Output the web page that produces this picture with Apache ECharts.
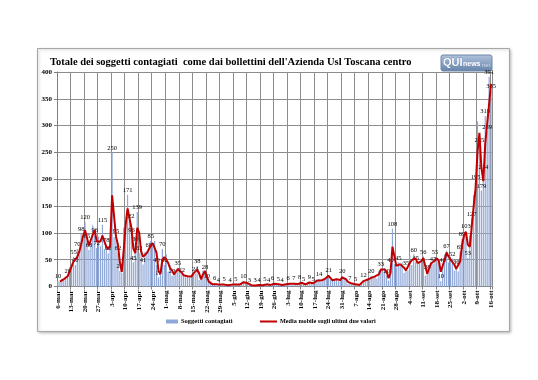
<!DOCTYPE html>
<html><head><meta charset="utf-8">
<script src="https://cdn.jsdelivr.net/npm/echarts@6/dist/echarts.min.js"></script>
<style>html,body{margin:0;padding:0;background:#fff}#c{width:538px;height:380px}</style>
</head><body><div id="c"></div>
<script>
// ---- data ----
const monthNames = ['mar', 'apr', 'mag', 'giu', 'lug', 'ago', 'set', 'ott'];
const monthFirstDay = [6, 1, 1, 1, 1, 1, 1, 1];
const marValues = [10, 8, 15, 12, 18, 20, 36, 38, 55, 40, 70, 60, 98, 90, 120, 85, 68, 80, 114, 96, 72, 93, 75, 115, 70, 78];
const aprValues = [62, 90, 250, 92, 95, 62, 29, 25, 110, 120, 171, 122, 96, 45, 80, 139, 62, 70, 41, 65, 60, 68, 85, 77, 85, 40, 17, 30, 70, 40];
const magValues = [60, 28, 40, 20, 25, 30, 35, 30, 22, 20, 17, 21, 17, 20, 28, 24, 38, 12, 15, 30, 28, 10, 8, 5, 3, 6, 2, 4, 3, 2, 5];
const giuValues = [3, 2, 4, 3, 2, 5, 3, 4, 6, 10, 8, 5, 3, 2, 1, 3, 2, 4, 3, 2, 5, 3, 4, 2, 6, 4, 3, 5, 2, 4];
const lugValues = [3, 5, 6, 4, 3, 7, 5, 4, 8, 6, 5, 3, 6, 9, 7, 5, 10, 12, 14, 8, 12, 16, 19, 21, 13, 10, 12, 15, 10, 14, 20];
const agoValues = [15, 12, 5, 7, 4, 3, 5, 2, 4, 8, 12, 10, 15, 12, 20, 17, 21, 15, 30, 33, 28, 35, 20, 11, 40, 108, 42, 35, 45, 38, 45];
const setValues = [25, 35, 30, 58, 40, 60, 45, 42, 45, 50, 56, 20, 28, 40, 46, 42, 55, 50, 45, 10, 40, 60, 67, 45, 56, 52, 30, 36, 28, 65];
const ottValues = [89, 101, 103, 53, 95, 127, 171, 195, 308, 265, 179, 214, 318, 289, 391, 365];
const yTickValues = [0, 50, 100, 150, 200, 250, 300, 350, 400];
const seriesNames = ['Soggetti contagiati', 'Media mobile sugli ultimi due valori'];
const titleText = "Totale dei soggetti contagiati  come dai bollettini dell'Azienda Usl Toscana centro";

// ---- build ----
const monthValues = [marValues, aprValues, magValues, giuValues, lugValues, agoValues, setValues, ottValues];
const categories = [];
monthValues.forEach((arr, m) => arr.forEach((_, k) => categories.push((monthFirstDay[m] + k) + '-' + monthNames[m])));
const contagiati = [].concat(...monthValues);
// 2-period moving average ("media mobile sugli ultimi due valori")
const mediaMobile = contagiati.map((v, i) => i === 0 ? null : (contagiati[i - 1] + v) / 2);
const last = mediaMobile.length - 1;
const mediaData = mediaMobile.map((v, i) => i === last
  ? { value: v, label: { show: true, position: 'top', distance: 3, color: '#c00000', fontWeight: 'bold', fontSize: 7, fontFamily: 'Liberation Serif' } }
  : v);

const serif = 'Liberation Serif';
const chart = echarts.init(document.getElementById('c'), null, { renderer: 'canvas' });
chart.setOption({
  animation: false,
  backgroundColor: '#fff',
  grid: { left: 57, top: 72, width: 435, height: 214.5, containLabel: false },
  xAxis: {
    type: 'category',
    data: categories,
    boundaryGap: true,
    axisLine: { show: true, lineStyle: { color: '#808080', width: 1 } },
    axisTick: { show: true, interval: 6, length: 3, lineStyle: { color: '#808080' } },
    splitLine: { show: true, interval: 6, lineStyle: { color: '#8c8c8c', width: 1 } },
    axisLabel: { interval: 6, rotate: 90, fontSize: 7, fontWeight: 'bold', fontFamily: serif, color: '#000', margin: 4 }
  },
  yAxis: {
    type: 'value', min: yTickValues[0], max: yTickValues[yTickValues.length - 1], interval: 50,
    axisLine: { show: true, lineStyle: { color: '#808080' } },
    axisTick: { show: true, length: 3, lineStyle: { color: '#808080' } },
    splitLine: { show: true, lineStyle: { color: '#8c8c8c', width: 1 } },
    axisLabel: { fontSize: 7, fontWeight: 'bold', fontFamily: serif, color: '#000', margin: 5 }
  },
  series: [
    {
      name: seriesNames[0], type: 'bar', data: contagiati, barWidth: '62%',
      itemStyle: { color: '#90a8d8' },
      label: { show: true, position: 'top', distance: 1, fontSize: 6.5, fontFamily: serif, color: '#000' },
      labelLayout: { hideOverlap: true },
      z: 2
    },
    {
      name: seriesNames[1], type: 'line', data: mediaData, symbol: 'none', showSymbol: false,
      connectNulls: false,
      lineStyle: { color: '#c00000', width: 2 },
      z: 3
    }
  ],
  graphic: [
    { type: 'rect', silent: true, z: -10, shape: { x: 37.5, y: 48.5, width: 472, height: 283 }, style: { fill: '#fff', stroke: '#a6a6a6', lineWidth: 1, shadowBlur: 3, shadowColor: 'rgba(0,0,0,0.25)', shadowOffsetX: 1, shadowOffsetY: 1 } },
    { type: 'text', silent: true, x: 50, y: 57, style: { text: titleText, font: 'bold 10.5px "Liberation Serif"', fill: '#000' } },
    { type: 'group', x: 441, y: 55, silent: true, children: [
      { type: 'rect', shape: { x: 0, y: 0, width: 51, height: 16, r: 2 }, style: { fill: new echarts.graphic.LinearGradient(0, 0, 0, 1, [{ offset: 0, color: '#b3c4dc' }, { offset: 1, color: '#6582ab' }]), stroke: '#6f87ab', lineWidth: 1 } },
      { type: 'text', x: 2, y: 2.5, style: { text: 'QUI', font: 'bold 11px "Liberation Sans"', fill: '#fff', stroke: '#4a6a96', lineWidth: 0.5 } },
      { type: 'text', x: 22, y: 6, style: { text: 'news', font: 'bold 7px "Liberation Sans"', fill: '#fff' } },
      { type: 'text', x: 41, y: 7, style: { text: 'net', font: '6px "Liberation Sans"', fill: '#d3deec' } }
    ] },
    { type: 'group', x: 166, y: 318, silent: true, children: [
      { type: 'rect', shape: { x: 0, y: 1.5, width: 12, height: 4 }, style: { fill: '#90a8d8' } },
      { type: 'text', x: 15, y: 0, style: { text: seriesNames[0], font: 'bold 6.5px "Liberation Serif"', fill: '#000' } },
      { type: 'line', shape: { x1: 94, y1: 3.5, x2: 111, y2: 3.5 }, style: { stroke: '#c00000', lineWidth: 2 } },
      { type: 'text', x: 114, y: 0, style: { text: seriesNames[1], font: 'bold 6.2px "Liberation Serif"', fill: '#000' } }
    ] }
  ]
});
</script></body></html>
